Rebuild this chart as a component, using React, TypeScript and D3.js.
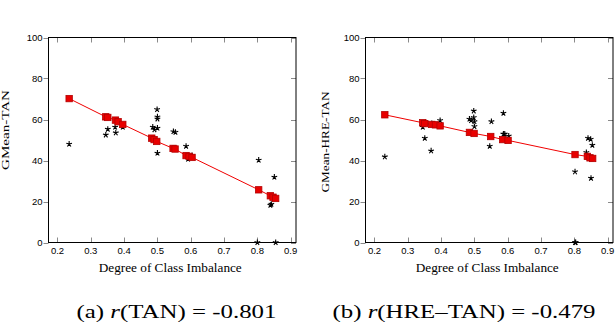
import { useRef, useEffect } from "react";
import * as d3 from "d3";

// panel (a): GMean-TAN
const tanFitX = [0.235, 0.345, 0.351, 0.374, 0.382, 0.396, 0.483, 0.49, 0.498, 0.547, 0.553, 0.586, 0.595, 0.604, 0.804, 0.839, 0.847, 0.855];
const tanFitY = [70.2, 61.3, 61.0, 59.7, 58.9, 57.6, 50.9, 50.2, 49.3, 45.9, 45.6, 42.4, 42.0, 41.5, 25.7, 22.8, 22.1, 21.5];
const tanObsX = [0.235, 0.345, 0.351, 0.373, 0.375, 0.396, 0.486, 0.491, 0.5, 0.499, 0.5, 0.5, 0.5, 0.548, 0.554, 0.586, 0.592, 0.604, 0.804, 0.851, 0.839, 0.842, 0.8, 0.855];
const tanObsY = [48.0, 52.5, 55.3, 56.3, 53.5, 56.3, 56.3, 55.0, 55.8, 64.9, 61.3, 60.3, 43.6, 54.1, 53.8, 47.0, 40.7, 42.4, 40.2, 31.9, 18.2, 18.7, 0, 0];

// panel (b): GMean-HRE-TAN
const hreFitX = [0.231, 0.345, 0.351, 0.372, 0.383, 0.397, 0.485, 0.499, 0.549, 0.585, 0.601, 0.802, 0.839, 0.847, 0.855];
const hreFitY = [62.3, 58.4, 58.0, 57.6, 57.4, 56.9, 53.7, 53.2, 51.7, 50.2, 49.8, 42.9, 42.0, 41.3, 41.0];
const hreObsX = [0.231, 0.345, 0.351, 0.37, 0.372, 0.397, 0.485, 0.49, 0.498, 0.498, 0.5, 0.5, 0.551, 0.546, 0.587, 0.587, 0.591, 0.603, 0.802, 0.836, 0.841, 0.849, 0.854, 0.85, 0.802, 0.804];
const hreObsY = [41.8, 56.3, 50.9, 44.7, 58.0, 59.5, 60.2, 59.5, 64.2, 61.0, 59.0, 56.6, 59.0, 47.0, 63.1, 52.9, 52.9, 52.0, 34.5, 43.9, 50.9, 50.4, 47.5, 31.4, 0, 0];

const xTicks = [0.2, 0.3, 0.4, 0.5, 0.6, 0.7, 0.8, 0.9];
const yTicks = [0, 20, 40, 60, 80, 100];

const panels = [
  { left: 48.5, right: 296, ylabel: "GMean-TAN", ylabelX: 9, ylabelY: 130, ylabelW: 80, capX: 176.5, capW: 200, tag: "(a) ", name: "TAN", r: "-0.801", fx: tanFitX, fy: tanFitY, ox: tanObsX, oy: tanObsY },
  { left: 365.5, right: 613, ylabel: "GMean-HRE-TAN", ylabelX: 329, ylabelY: 142, ylabelW: 101, capX: 464, capW: 263, tag: "(b) ", name: "HRE\u2013TAN", r: "-0.479", fx: hreFitX, fy: hreFitY, ox: hreObsX, oy: hreObsY },
];

const SERIF = "'Liberation Serif', 'DejaVu Serif', serif";
const SANS = "'Liberation Sans', Arial, sans-serif";

function starPath(r) {
  let p = "";
  for (let k = 0; k < 5; k++) {
    const a = -Math.PI / 2 + (k * 2 * Math.PI) / 5;
    p += `M0,0L${(r * Math.cos(a)).toFixed(2)},${(r * Math.sin(a)).toFixed(2)}`;
  }
  return p;
}

export default function App() {
  const svgRef = useRef(null);

  useEffect(() => {
    const svg = d3.select(svgRef.current);
    svg.selectAll("*").remove();

    const top = 37.5;
    const bottom = 242.5;
    const y = d3.scaleLinear().domain([0, 100]).range([bottom, top]);

    panels.forEach((p) => {
      const x = d3.scaleLinear().domain([0.173, 0.916]).range([p.left, p.right]);
      const g = svg.append("g");

      // ticks
      const tk = g.append("g").attr("stroke", "#8a8a8a").attr("stroke-width", 1);
      xTicks.forEach((t) => {
        const xx = Math.round(x(t)) + 0.5;
        tk.append("line").attr("x1", xx).attr("x2", xx).attr("y1", bottom).attr("y2", bottom - 5);
        tk.append("line").attr("x1", xx).attr("x2", xx).attr("y1", top).attr("y2", top + 5);
      });
      yTicks.forEach((t) => {
        const yy = Math.round(y(t)) + 0.5;
        tk.append("line").attr("x1", p.left - 5).attr("x2", p.left).attr("y1", yy).attr("y2", yy);
        tk.append("line").attr("x1", p.right - 5).attr("x2", p.right).attr("y1", yy).attr("y2", yy);
      });

      // frame
      g.append("rect")
        .attr("x", p.left)
        .attr("y", top)
        .attr("width", p.right - p.left)
        .attr("height", bottom - top)
        .attr("fill", "none")
        .attr("stroke", "#000")
        .attr("stroke-width", 1);

      // tick labels
      g.append("g")
        .style("font-family", SANS)
        .style("font-size", "9.5px")
        .selectAll("text")
        .data(xTicks)
        .join("text")
        .attr("x", (d) => x(d))
        .attr("y", 254)
        .attr("text-anchor", "middle")
        .text((d) => d3.format(".1f")(d));
      g.append("g")
        .style("font-family", SANS)
        .style("font-size", "9.5px")
        .selectAll("text")
        .data(yTicks)
        .join("text")
        .attr("x", p.left - 6)
        .attr("y", (d) => y(d) + 3.5)
        .attr("text-anchor", "end")
        .text((d) => d);

      // axis titles
      g.append("text")
        .attr("transform", `translate(${p.ylabelX},${p.ylabelY}) rotate(-90)`)
        .attr("text-anchor", "middle")
        .style("font-family", SERIF)
        .style("font-size", "11px")
        .attr("textLength", p.ylabelW)
        .attr("lengthAdjust", "spacingAndGlyphs")
        .text(p.ylabel);
      g.append("text")
        .attr("x", (p.left + p.right) / 2 - 2)
        .attr("y", 272)
        .attr("text-anchor", "middle")
        .style("font-family", SERIF)
        .style("font-size", "12px")
        .attr("textLength", 143)
        .attr("lengthAdjust", "spacingAndGlyphs")
        .text("Degree of Class Imbalance");

      // observed values (stars)
      g.append("g")
        .attr("stroke", "#000")
        .attr("stroke-width", 1.1)
        .attr("fill", "none")
        .selectAll("path")
        .data(d3.range(p.ox.length))
        .join("path")
        .attr("transform", (i) => `translate(${x(p.ox[i])},${y(p.oy[i])})`)
        .attr("d", starPath(3));

      // fitted line
      const fit = d3.range(p.fx.length).map((i) => [p.fx[i], p.fy[i]]).sort((a, b) => a[0] - b[0]);
      g.append("path")
        .datum(fit)
        .attr("fill", "none")
        .attr("stroke", "#f00000")
        .attr("stroke-width", 1)
        .attr("d", d3.line().x((d) => x(d[0])).y((d) => y(d[1])));

      g.append("g")
        .selectAll("rect")
        .data(fit)
        .join("rect")
        .attr("x", (d) => x(d[0]) - 3.2)
        .attr("y", (d) => y(d[1]) - 3.2)
        .attr("width", 6.4)
        .attr("height", 6.4)
        .attr("fill", "#e80000")
        .attr("stroke", "#b30000")
        .attr("stroke-width", 0.8);

      // caption
      const cap = g.append("text")
        .attr("x", p.capX)
        .attr("y", 317.5)
        .attr("text-anchor", "middle")
        .style("font-family", SERIF)
        .style("font-size", "19px")
        .attr("textLength", p.capW)
        .attr("lengthAdjust", "spacingAndGlyphs");
      cap.append("tspan").text(p.tag);
      cap.append("tspan").style("font-style", "italic").text("r");
      cap.append("tspan").text(`(${p.name}) = ${p.r}`);
    });
  }, []);

  return (
    <svg
      ref={svgRef}
      width={616}
      height={322}
      style={{ position: "absolute", left: 0, top: 0, background: "#fff" }}
    />
  );
}
